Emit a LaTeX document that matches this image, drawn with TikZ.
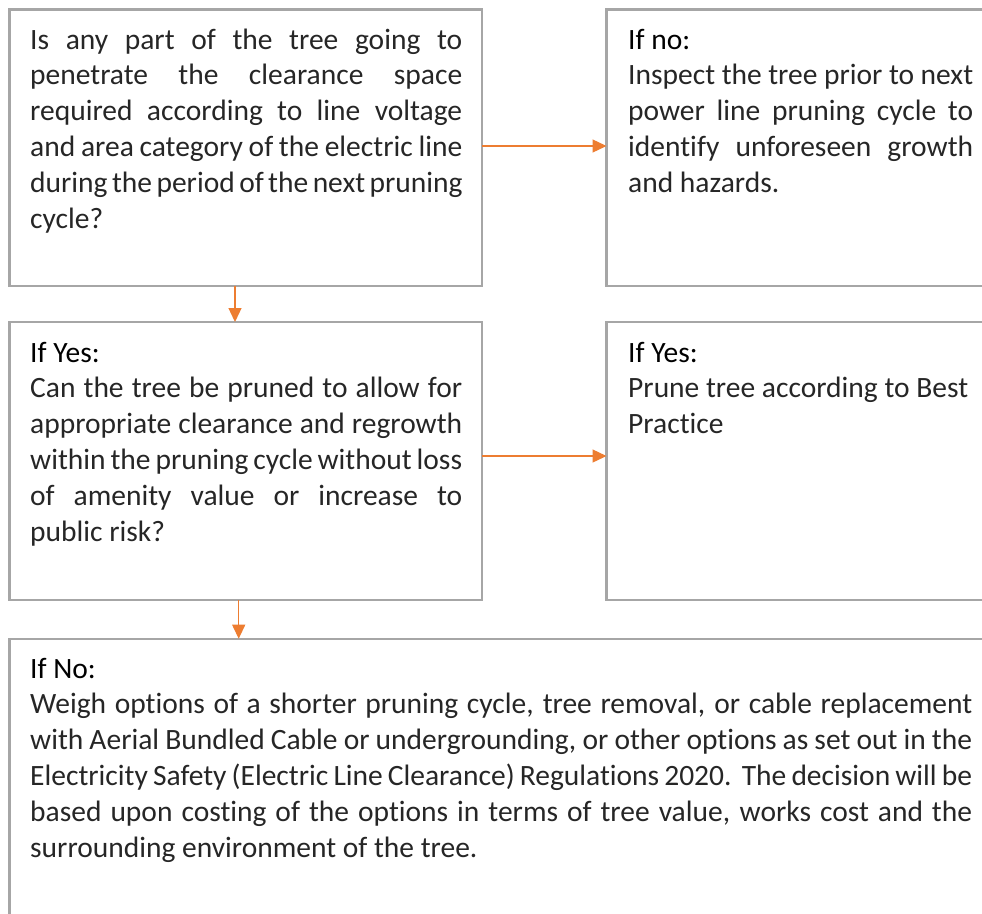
\documentclass[tikz,border=0pt]{standalone}
\usepackage{fontspec}
\setmainfont{Carlito}[Ligatures=NoCommon]
\usetikzlibrary{arrows.meta}
\definecolor{boxgray}{HTML}{A6A6A6}
\definecolor{arrorange}{HTML}{ED7D31}
\definecolor{bodytext}{HTML}{262626}
\newcommand\jline[1]{\makebox[\linewidth][s]{#1}}
\newcommand\headtxt[1]{\leavevmode{\color{black}#1}}
\tikzset{
  box/.style={draw=boxgray, line width=2.4pt, rectangle, inner sep=0pt, outer sep=0pt, anchor=north west},
  txt/.style={anchor=base west, inner sep=0pt, text=bodytext, font=\fontsize{29.5}{35.8}\selectfont},
  arr/.style={draw=arrorange, line width=1.3pt, -{Triangle[length=14pt,width=13pt]}},
}
\begin{document}
\begin{tikzpicture}[x=1pt,y=-1pt]
\useasboundingbox (0,0) rectangle (982,913);
\clip (0,0) rectangle (982,913);
\fill[white] (0,0) rectangle (982,913);
% boxes
\node[box, minimum width=472.5pt, minimum height=276.5pt] (b1) at (9.5,9.5) {};
\node[box, minimum width=420pt, minimum height=276.5pt] (b2) at (606.5,9.5) {};
\node[box, minimum width=472.5pt, minimum height=278pt] (b3) at (9.5,322) {};
\node[box, minimum width=420pt, minimum height=278pt] (b4) at (606.5,322) {};
\node[box, minimum width=1020pt, minimum height=320pt] (b5) at (9.5,638.7) {};
% texts
\node[txt] (t1) at (30,49) {\parbox[t]{432pt}{%
\jline{Is any part of the tree going to}\\
\jline{penetrate the clearance space}\\
\jline{required according to line voltage}\\
\jline{and area category of the electric line}\\
\jline{during the period of the next pruning}\\
cycle?}};
\node[txt] (t2) at (628,49) {\parbox[t]{345pt}{%
\headtxt{If no:}\\
\jline{Inspect the tree prior to next}\\
\jline{power line pruning cycle to}\\
\jline{identify unforeseen growth}\\
and hazards.}};
\node[txt] (t3) at (30,362) {\parbox[t]{432pt}{%
\headtxt{If Yes:}\\
\jline{Can the tree be pruned to allow for}\\
\jline{appropriate clearance and regrowth}\\
\jline{within the pruning cycle without loss}\\
\jline{of amenity value or increase to}\\
public risk?}};
\node[txt] (t4) at (628,362) {\parbox[t]{345pt}{%
\headtxt{If Yes:}\\
Prune tree according to Best\\
Practice}};
\node[txt] (t5) at (30,678) {\parbox[t]{942pt}{%
\headtxt{If No:}\\
\jline{Weigh options of a shorter pruning cycle, tree removal, or cable replacement}\\
\jline{with Aerial Bundled Cable or undergrounding, or other options as set out in the}\\
\jline{Electricity Safety (Electric Line Clearance) Regulations 2020.\ \ The decision will be}\\
\jline{based upon costing of the options in terms of tree value, works cost and the}\\
surrounding environment of the tree.}};
% connectors
\coordinate (a1) at (235,0);
\coordinate (a2) at (238.7,0);
\coordinate (h1) at (0,146);
\coordinate (h2) at (0,456);
\draw[arr] (b1.east |- h1) -- (b2.west |- h1);
\draw[arr] (b3.east |- h2) -- (b4.west |- h2);
\draw[arr] (b1.south -| a1) -- (b3.north -| a1);
\draw[arr] (b3.south -| a2) -- (b5.north -| a2);
\end{tikzpicture}
\end{document}
